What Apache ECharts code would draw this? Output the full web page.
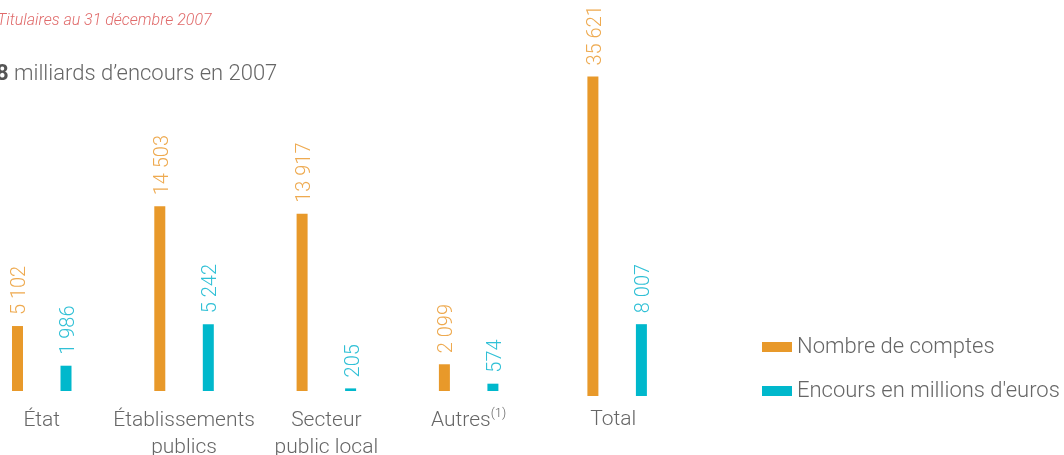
<!DOCTYPE html>
<html>
<head>
<meta charset="utf-8">
<script src="https://cdn.jsdelivr.net/npm/echarts@6/dist/echarts.min.js"></script>
<style>
html,body{margin:0;padding:0;background:#fff;}
#c{width:1064px;height:455px;}
</style>
</head>
<body>
<div id="c"></div>
<script>
const categories = ['État', 'Établissements\npublics', 'Secteur\npublic local', 'Autres{sup|(1)}'];
const comptes = [5102, 14503, 13917, 2099];
const encours = [1986, 5242, 205, 574];
const totalCategory = ['Total'];
const totalComptes = [35621];
const totalEncours = [8007];
const seriesNames = ['Nombre de comptes', "Encours en millions d'euros"];

const FONT = 'Roboto, "Liberation Sans", sans-serif';
const ORANGE = '#e8992a';
const CYAN = '#00b8cc';
const ORANGE_LBL = '#eeaa50';
const CYAN_LBL = '#30c0d6';

function fmt(p) { return String(p.value).replace(/\B(?=(\d{3})+(?!\d))/g, ' '); }
function lbl(color) {
  return { show: true, position: 'top', rotate: 90, align: 'left', verticalAlign: 'middle',
    distance: 11, offset: [0, 3], fontSize: 20, fontWeight: 300, fontFamily: FONT, color: color, formatter: fmt };
}
const axisLabelBase = { interval: 0, color: '#666', fontSize: 21, fontWeight: 300, fontFamily: FONT,
  lineHeight: 27, verticalAlign: 'top',
  rich: { sup: { fontSize: 13, fontWeight: 300, fontFamily: FONT, color: '#666', verticalAlign: 'top', lineHeight: 27, padding: [0,0,10,0] } } };

const chart = echarts.init(document.getElementById('c'), null, { renderer: 'canvas' });
chart.setOption({
  animation: false,
  backgroundColor: '#fff',
  grid: [
    { left: -29.4, width: 569.2, bottom: 64, height: 382, containLabel: false, outerBoundsMode: 'none' },
    { left: 546, width: 142.3, bottom: 59, height: 358.8, containLabel: false, outerBoundsMode: 'none' }
  ],
  xAxis: [
    { type: 'category', gridIndex: 0, data: categories, axisLine: { show: false }, axisTick: { show: false },
      axisLabel: Object.assign({}, axisLabelBase, { margin: 16 }) },
    { type: 'category', gridIndex: 1, data: totalCategory, axisLine: { show: false }, axisTick: { show: false },
      axisLabel: Object.assign({}, axisLabelBase, { margin: 10, padding: [0, 8, 0, 0] }) }
  ],
  yAxis: [
    { type: 'value', gridIndex: 0, min: 0, max: 30000, show: false, splitLine: { show: false } },
    { type: 'value', gridIndex: 1, min: 0, max: 40000, show: false, splitLine: { show: false } }
  ],
  legend: {
    orient: 'vertical', left: 757, top: 329, itemWidth: 30, itemHeight: 10, itemGap: 18,
    icon: 'rect', data: seriesNames, itemTextPadding: 0,
    textStyle: { color: '#666', fontSize: 22, fontWeight: 300, fontFamily: FONT, lineHeight: 26 }
  },
  series: [
    { name: seriesNames[0], type: 'bar', xAxisIndex: 0, yAxisIndex: 0, data: comptes, barWidth: 11, barGap: '341%',
      itemStyle: { color: ORANGE }, label: lbl(ORANGE_LBL) },
    { name: seriesNames[1], type: 'bar', xAxisIndex: 0, yAxisIndex: 0, data: encours, barWidth: 11, barGap: '341%',
      itemStyle: { color: CYAN }, label: lbl(CYAN_LBL) },
    { name: seriesNames[0], type: 'bar', xAxisIndex: 1, yAxisIndex: 1, data: totalComptes, barWidth: 11, barGap: '341%',
      itemStyle: { color: ORANGE }, label: lbl(ORANGE_LBL) },
    { name: seriesNames[1], type: 'bar', xAxisIndex: 1, yAxisIndex: 1, data: totalEncours, barWidth: 11, barGap: '341%',
      itemStyle: { color: CYAN }, label: lbl(CYAN_LBL) }
  ],
  graphic: [
    { type: 'text', left: -3, top: 13, style: { text: 'Titulaires au 31 décembre 2007', fill: '#e06a6a',
      font: 'italic 300 16px ' + FONT } },
    { type: 'text', left: -4, top: 63, style: {
      text: '{b|8} milliards d’encours en 2007',
      fill: '#666', font: '300 22px ' + FONT,
      rich: { b: { fontWeight: 'bold', fontSize: 22, fontFamily: FONT, fill: '#555' } } } }
  ]
});
</script>
</body>
</html>
